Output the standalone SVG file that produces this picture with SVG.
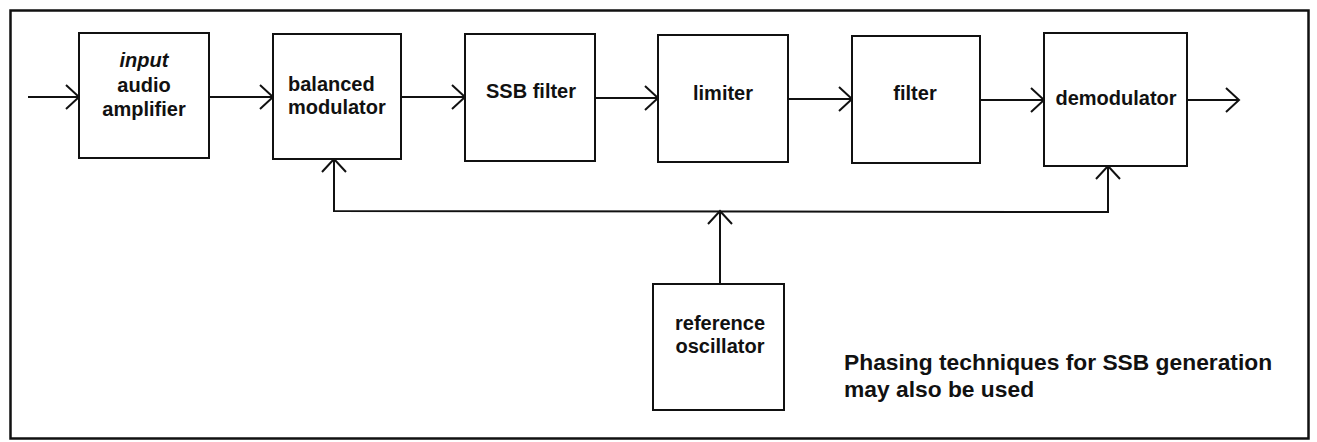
<svg xmlns="http://www.w3.org/2000/svg" width="1317" height="442" viewBox="0 0 1317 442">
<style>
.box{fill:#fff;stroke:#111;stroke-width:2}
.lbl{font-family:"Liberation Sans",Arial,sans-serif;font-weight:bold;font-size:20px;fill:#111;text-anchor:middle}
.note{font-family:"Liberation Sans",Arial,sans-serif;font-weight:bold;font-size:22.8px;fill:#111}
.wire{fill:none;stroke:#111;stroke-width:2;marker-end:url(#arr)}
.plain{fill:none;stroke:#111;stroke-width:2}
</style>
<defs>
<marker id="arr" markerUnits="userSpaceOnUse" markerWidth="30" markerHeight="30" viewBox="-16 -15 20 30" refX="0" refY="0" orient="auto">
<path d="M-13,-12 L0,0 L-13,12" fill="none" stroke="#111" stroke-width="2"/>
</marker>
</defs>
<rect x="0" y="0" width="1317" height="442" fill="#fff"/>
<rect id="frame" x="10.5" y="10.5" width="1298" height="428" fill="none" stroke="#111" stroke-width="2.5"/>
<g id="connectors">
<line class="wire" x1="28" y1="97" x2="79" y2="97"/>
<line class="wire" x1="209" y1="97" x2="273" y2="97"/>
<line class="wire" x1="401" y1="97" x2="465" y2="97"/>
<line class="wire" x1="595" y1="98" x2="658" y2="98"/>
<line class="wire" x1="788" y1="99" x2="852" y2="99"/>
<line class="wire" x1="980" y1="100" x2="1044" y2="100"/>
<line class="wire" x1="1187" y1="100" x2="1239" y2="100"/>
<polyline class="plain" points="334,159 334,211 1108,212 1108,166"/>
<line class="wire" x1="334" y1="200" x2="334" y2="159"/>
<line class="wire" x1="1108" y1="200" x2="1108" y2="166"/>
<line class="wire" x1="720" y1="284" x2="720" y2="211"/>
</g>
<g id="n-input">
<rect class="box" x="79" y="33" width="130" height="125"/>
<text class="lbl" x="144" y="67" font-style="italic">input</text>
<text class="lbl" x="144" y="92">audio</text>
<text class="lbl" x="144" y="116">amplifier</text>
</g>
<g id="n-balmod">
<rect class="box" x="273" y="34" width="128" height="125"/>
<text class="lbl" x="288" y="91" style="text-anchor:start">balanced</text>
<text class="lbl" x="288" y="114" style="text-anchor:start">modulator</text>
</g>
<g id="n-ssb">
<rect class="box" x="465" y="34" width="130" height="127"/>
<text class="lbl" x="531" y="98">SSB filter</text>
</g>
<g id="n-limiter">
<rect class="box" x="658" y="35" width="130" height="127"/>
<text class="lbl" x="723" y="100">limiter</text>
</g>
<g id="n-filter">
<rect class="box" x="852" y="36" width="128" height="127"/>
<text class="lbl" x="915" y="100">filter</text>
</g>
<g id="n-demod">
<rect class="box" x="1044" y="33" width="143" height="133"/>
<text class="lbl" x="1116" y="105">demodulator</text>
</g>
<g id="n-refosc">
<rect class="box" x="653" y="284" width="131" height="126"/>
<text class="lbl" x="720" y="330">reference</text>
<text class="lbl" x="720" y="353">oscillator</text>
</g>
<g id="note">
<text class="note" x="844" y="370">Phasing techniques for SSB generation</text>
<text class="note" x="844" y="397">may also be used</text>
</g>
</svg>
